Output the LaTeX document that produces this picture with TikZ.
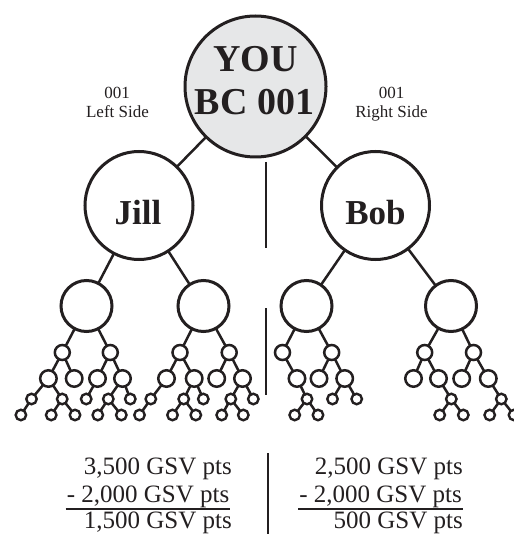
\documentclass[tikz,border=0pt]{standalone}
\usepackage{fontspec}
\setmainfont{Liberation Serif}
\definecolor{ink}{HTML}{231F20}
\definecolor{youfill}{HTML}{E6E7E8}
\begin{document}
\begin{tikzpicture}[x=1pt,y=-1pt,
  ring/.style={circle, draw=ink, inner sep=0pt, outer sep=0pt},
  topc/.style={ring, line width=3pt, minimum size=141pt, fill=youfill},
  midc/.style={ring, line width=3pt, minimum size=108pt},
  lvtwo/.style={ring, line width=3pt, minimum size=51pt},
  lvthree/.style={ring, line width=2.5pt, minimum size=15pt},
  lvfour/.style={ring, line width=2.5pt, minimum size=16.5pt},
  lvsmall/.style={ring, line width=2.4pt, minimum size=10.5pt},
  conn/.style={draw=ink, line width=2.5pt},
  divider/.style={draw=ink, line width=2.6pt},
  bigtxt/.style={anchor=base, inner sep=0pt, text=ink, font=\bfseries\fontsize{38}{43}\selectfont},
  nametxt/.style={anchor=base, inner sep=0pt, text=ink, font=\bfseries\fontsize{35}{40}\selectfont},
  sidetxt/.style={anchor=base, inner sep=0pt, text=ink, font=\fontsize{17}{19}\selectfont},
  sumtxt/.style={anchor=base east, inner sep=0pt, text=ink, font=\fontsize{25}{29}\selectfont},
  uline/.style={draw=ink, line width=1.5pt}
]
\useasboundingbox (0,0) rectangle (513,534);

% main circles
\node[topc] (you) at (255.5,86.5) {};
\node[midc] (jill) at (139,205.5) {};
\node[midc] (bob) at (375.5,205.5) {};
\node[bigtxt] (youA) at (255.5,72) {YOU};
\node[bigtxt] (youB) at (254.5,115) {BC 001};
\node[nametxt] (jilltxt) at (138,225) {Jill};
\node[nametxt] (bobtxt) at (375.5,225) {Bob};
\node[sidetxt] (lnum) at (117,99) {001};
\node[sidetxt] (lside) at (117.5,118) {Left Side};
\node[sidetxt] (rnum) at (391.5,99) {001};
\node[sidetxt] (rside) at (391.5,118) {Right Side};

\draw[conn] (you) -- (jill);
\draw[conn] (you) -- (bob);

% level 2
\node[lvtwo] (jl) at (86.5,306) {};
\node[lvtwo] (jr) at (203.5,306) {};
\node[lvtwo] (bl) at (306.5,306) {};
\node[lvtwo] (br) at (451,306) {};
\draw[conn] (jill) -- (jl);
\draw[conn] (jill) -- (jr);
\draw[conn] (bob) -- (bl);
\draw[conn] (bob) -- (br);

% ---- Jill left subtree
\node[lvthree] (a1) at (62.3,352.5) {};
\node[lvthree] (a2) at (110.3,352.5) {};
\node[lvfour] (b1) at (48.4,378.5) {};
\node[lvfour] (b2) at (74.2,378.5) {};
\node[lvfour] (b3) at (97.5,378.5) {};
\node[lvfour] (b4) at (122.5,378.5) {};
\node[lvsmall] (c1) at (31.5,399) {};
\node[lvsmall] (c2) at (62.2,399) {};
\node[lvsmall] (c3) at (86.2,399) {};
\node[lvsmall] (c4) at (108.3,399) {};
\node[lvsmall] (c5) at (130.3,399) {};
\node[lvsmall] (d1) at (20.9,415) {};
\node[lvsmall] (d2) at (51.2,415) {};
\node[lvsmall] (d3) at (75,415) {};
\node[lvsmall] (d4) at (97.8,415) {};
\node[lvsmall] (d5) at (121.3,415) {};
\draw[conn] (jl) -- (a1);
\draw[conn] (jl) -- (a2);
\draw[conn] (a1) -- (b1);
\draw[conn] (a1) -- (b2);
\draw[conn] (a2) -- (b3);
\draw[conn] (a2) -- (b4);
\draw[conn] (b1) -- (c1);
\draw[conn] (b1) -- (c2);
\draw[conn] (b3) -- (c3);
\draw[conn] (b4) -- (c4);
\draw[conn] (b4) -- (c5);
\draw[conn] (c1) -- (d1);
\draw[conn] (c2) -- (d2);
\draw[conn] (c2) -- (d3);
\draw[conn] (c4) -- (d4);
\draw[conn] (c4) -- (d5);

% ---- Jill right subtree
\node[lvthree] (a3) at (180,352.5) {};
\node[lvthree] (a4) at (229.2,352.5) {};
\node[lvfour] (b5) at (166.5,378.5) {};
\node[lvfour] (b6) at (194.2,378.5) {};
\node[lvfour] (b7) at (216.7,378.5) {};
\node[lvfour] (b8) at (242.5,378.5) {};
\node[lvsmall] (c6) at (150.8,399) {};
\node[lvsmall] (c7) at (183.7,399) {};
\node[lvsmall] (c8) at (203.3,399) {};
\node[lvsmall] (c9) at (230.8,399) {};
\node[lvsmall] (c10) at (253.3,399) {};
\node[lvsmall] (d6) at (139.5,415) {};
\node[lvsmall] (d7) at (172.5,415) {};
\node[lvsmall] (d8) at (195.8,415) {};
\node[lvsmall] (d9) at (221.7,415) {};
\node[lvsmall] (d10) at (243.3,415) {};
\draw[conn] (jr) -- (a3);
\draw[conn] (jr) -- (a4);
\draw[conn] (a3) -- (b5);
\draw[conn] (a3) -- (b6);
\draw[conn] (a4) -- (b7);
\draw[conn] (a4) -- (b8);
\draw[conn] (b5) -- (c6);
\draw[conn] (b6) -- (c7);
\draw[conn] (b6) -- (c8);
\draw[conn] (b8) -- (c9);
\draw[conn] (b8) -- (c10);
\draw[conn] (c6) -- (d6);
\draw[conn] (c7) -- (d7);
\draw[conn] (c7) -- (d8);
\draw[conn] (c9) -- (d9);
\draw[conn] (c9) -- (d10);

% ---- Bob left subtree
\node[lvthree] (e1) at (282.5,352.5) {};
\node[lvthree] (e2) at (331.7,352.5) {};
\node[lvfour] (f1) at (297,378.5) {};
\node[lvfour] (f2) at (319,378.5) {};
\node[lvfour] (f3) at (344.7,378.5) {};
\node[lvsmall] (g1) at (307,399) {};
\node[lvsmall] (g2) at (332.5,399) {};
\node[lvsmall] (g3) at (356.7,399) {};
\node[lvsmall] (h1) at (294.7,415) {};
\node[lvsmall] (h2) at (318,415) {};
\draw[conn] (bl) -- (e1);
\draw[conn] (bl) -- (e2);
\draw[conn] (e1) -- (f1);
\draw[conn] (e2) -- (f2);
\draw[conn] (e2) -- (f3);
\draw[conn] (f1) -- (g1);
\draw[conn] (f3) -- (g2);
\draw[conn] (f3) -- (g3);
\draw[conn] (g1) -- (h1);
\draw[conn] (g1) -- (h2);

% ---- Bob right subtree
\node[lvthree] (e3) at (424.7,352.5) {};
\node[lvthree] (e4) at (473.5,352.5) {};
\node[lvfour] (f4) at (413.5,378.5) {};
\node[lvfour] (f5) at (438.5,378.5) {};
\node[lvfour] (f6) at (461.7,378.5) {};
\node[lvfour] (f7) at (488.3,378.5) {};
\node[lvsmall] (g4) at (451.3,399) {};
\node[lvsmall] (g5) at (501.3,399) {};
\node[lvsmall] (h3) at (439.7,415) {};
\node[lvsmall] (h4) at (463.3,415) {};
\node[lvsmall] (h5) at (489.7,415) {};
\node[lvsmall] (h6) at (514,415) {};
\draw[conn] (br) -- (e3);
\draw[conn] (br) -- (e4);
\draw[conn] (e3) -- (f4);
\draw[conn] (e3) -- (f5);
\draw[conn] (e4) -- (f6);
\draw[conn] (e4) -- (f7);
\draw[conn] (f5) -- (g4);
\draw[conn] (f7) -- (g5);
\draw[conn] (g4) -- (h3);
\draw[conn] (g4) -- (h4);
\draw[conn] (g5) -- (h5);
\draw[conn] (g5) -- (h6);

% dividers
\coordinate (v1a) at (266,162);
\coordinate (v1b) at (266,248);
\coordinate (v2a) at (266,308);
\coordinate (v2b) at (266,395);
\coordinate (v3a) at (268,453);
\coordinate (v3b) at (268,534);
\draw[divider] (v1a) -- (v1b);
\draw[divider] (v2a) -- (v2b);
\draw[divider] (v3a) -- (v3b);

% totals
\node[sumtxt] (la) at (232,474.5) {3,500 GSV pts};
\node[sumtxt] (lb) at (229.5,502.5) {- 2,000 GSV pts};
\node[sumtxt] (lc) at (232,528.3) {1,500 GSV pts};
\node[sumtxt] (ra) at (463,474.5) {2,500 GSV pts};
\node[sumtxt] (rb) at (462,502.5) {- 2,000 GSV pts};
\node[sumtxt] (rc) at (463,528.3) {500 GSV pts};
\draw[uline] ([xshift=-1pt,yshift=-6.3pt]lb.base west) -- ([xshift=0.5pt,yshift=-6.3pt]lb.base east);
\draw[uline] ([xshift=-1pt,yshift=-6.3pt]rb.base west) -- ([xshift=0.5pt,yshift=-6.3pt]rb.base east);
\end{tikzpicture}
\end{document}
